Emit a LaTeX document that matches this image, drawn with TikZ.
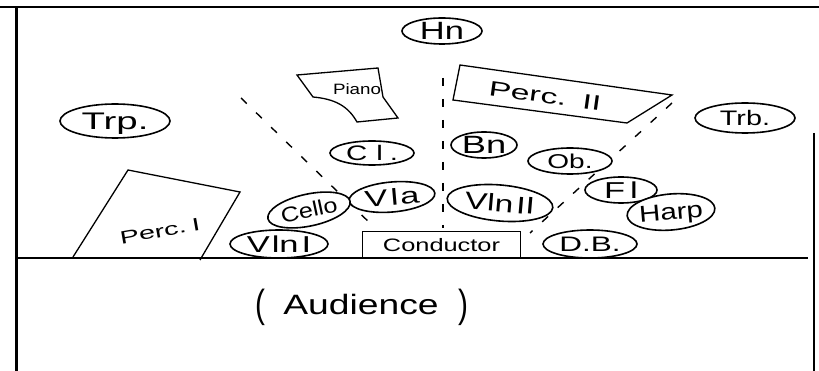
\documentclass[tikz,border=0pt]{standalone}
\usepackage{fontspec}
\setmainfont{Liberation Sans}
\usetikzlibrary{shapes.geometric}
\newcommand\ctr[1]{\makebox[0pt]{\raisebox{-0.5\height}[0pt][0pt]{#1}}}
\newcommand\hf[2]{\fontsize{#1}{#1}\selectfont\addfontfeature{FakeStretch=#2}}
\begin{document}
\begin{tikzpicture}[x=1pt,y=-1pt,
  ell/.style={ellipse,draw,line width=1.6pt,fill=white,inner sep=0pt},
  quad/.style={draw,line width=1.3pt},
  guide/.style={line width=1.4pt,dash pattern=on 8pt off 13pt},
  frame/.style={line width=1.2pt}]
\useasboundingbox (0,0) rectangle (819,371);
% frame
\coordinate (tl) at (0,7); \coordinate (tr) at (819,7);
\coordinate (lt) at (16,7); \coordinate (lb) at (16,371);
\coordinate (rt) at (814,133); \coordinate (rb) at (814,371);
\coordinate (sl) at (16,258); \coordinate (sr) at (808,258);
\draw[frame] (tl) -- (tr);
\draw[line width=3pt] (lt) -- (lb);
\draw[line width=2pt] (rt) -- (rb);
\draw[frame] (sl) -- (sr);
% guides
\coordinate (g1a) at (241,98); \coordinate (g1b) at (374,227);
\coordinate (g2a) at (443,78); \coordinate (g2b) at (443,228);
\coordinate (g3a) at (672,103); \coordinate (g3b) at (530,233);
\draw[guide] (g1a) -- (g1b);
\draw[guide] (g2a) -- (g2b);
\draw[guide] (g3a) -- (g3b);
% piano
\coordinate (pa) at (297,75); \coordinate (pb) at (378,68); \coordinate (pc) at (383,97);
\coordinate (pd) at (398,118); \coordinate (pe) at (357,122); \coordinate (pf) at (313,97);
\draw[quad] (pa) -- (pb) -- (pc) -- (pd) -- (pe) .. controls (348,106) and (335,99) .. (pf) -- cycle;
\node[inner sep=0pt,font=\hf{15pt}{1.25}] (piano) at (357,89) {\ctr{Piano}};
% perc II
\coordinate (q1) at (460,65); \coordinate (q2) at (672,95);
\coordinate (q3) at (627,123); \coordinate (q4) at (453,100);
\draw[quad] (q1) -- (q2) -- (q3) -- (q4) -- cycle;
\node[inner sep=0pt,rotate=-8,font=\hf{21pt}{1.6}] (perc2) at (545,96) {\ctr{Perc.\hspace{16pt}II}};
% perc I
\coordinate (r1) at (128,170); \coordinate (r2) at (240,192);
\coordinate (r3) at (200,260); \coordinate (r4) at (73,257);
\draw[quad] (r4) -- (r1) -- (r2) -- (r3);
\node[inner sep=0pt,rotate=10,font=\hf{18pt}{1.6}] (perc1) at (160,231) {\ctr{Perc.\hspace{6pt}I}};
% conductor
\node[minimum width=157pt,minimum height=26pt,inner sep=0pt,font=\hf{18pt}{1.41}] (cond) at (441.5,245) {\ctr{Conductor}};
\draw[quad] (cond.south west) |- (cond.north east) -- (cond.south east);
% instruments
\node[ell,minimum width=80pt,minimum height=26pt,font=\hf{25pt}{1.38}] (hn) at (442,31) {\ctr{Hn}};
\node[ell,minimum width=110pt,minimum height=34pt,font=\hf{24pt}{1.6}] (trp) at (115,121) {\ctr{Trp.}};
\node[ell,minimum width=100pt,minimum height=30pt,font=\hf{21pt}{1.37}] (trb) at (745,118) {\ctr{Trb.}};
\node[ell,minimum width=84pt,minimum height=24pt,font=\hf{21pt}{1.4}] (cl) at (372,153) {\ctr{C\hspace{9pt}l\hspace{7pt}.}};
\node[ell,minimum width=66pt,minimum height=26pt,font=\hf{25pt}{1.45}] (bn) at (484,145) {\ctr{Bn}};
\node[ell,minimum width=84pt,minimum height=26pt,font=\hf{20pt}{1.4}] (ob) at (570,161) {\ctr{Ob.}};
\node[ell,minimum width=86pt,minimum height=30pt,rotate=5,font=\hf{23pt}{1.5}] (vla) at (392,197) {\ctr{V\hspace{3pt}l\hspace{2pt}a}};
\node[ell,minimum width=106pt,minimum height=36pt,rotate=-5,font=\hf{24pt}{1.4}] (vln2) at (500,203) {\ctr{Vln\hspace{3pt}II}};
\node[ell,minimum width=84pt,minimum height=32pt,rotate=12,font=\hf{21pt}{1.2}] (cello) at (309,210) {\ctr{Cello}};
\node[ell,minimum width=98pt,minimum height=28pt,font=\hf{23pt}{1.5}] (vln1) at (279,244) {\ctr{V\hspace{2pt}ln\hspace{3pt}I}};
\node[ell,minimum width=72pt,minimum height=26pt,font=\hf{23pt}{1.5}] (fl) at (621,190) {\ctr{F\hspace{5pt}l}};
\node[ell,minimum width=88pt,minimum height=36pt,rotate=5,font=\hf{23pt}{1.28}] (harp) at (671,212) {\ctr{Harp}};
\node[ell,minimum width=94pt,minimum height=28pt,font=\hf{21pt}{1.5}] (db) at (590,244) {\ctr{D.B.}};
% audience
\node[inner sep=0pt,font=\hf{28pt}{1.33}] (aud) at (362,305) {\makebox[0pt]{\raisebox{-10pt}[0pt][0pt]{\raisebox{-3pt}{\scalebox{0.8}[1.4]{(}}\hspace{18pt}Audience\hspace{20pt}\raisebox{-3pt}{\scalebox{0.8}[1.4]{)}}}}};
\end{tikzpicture}
\end{document}
